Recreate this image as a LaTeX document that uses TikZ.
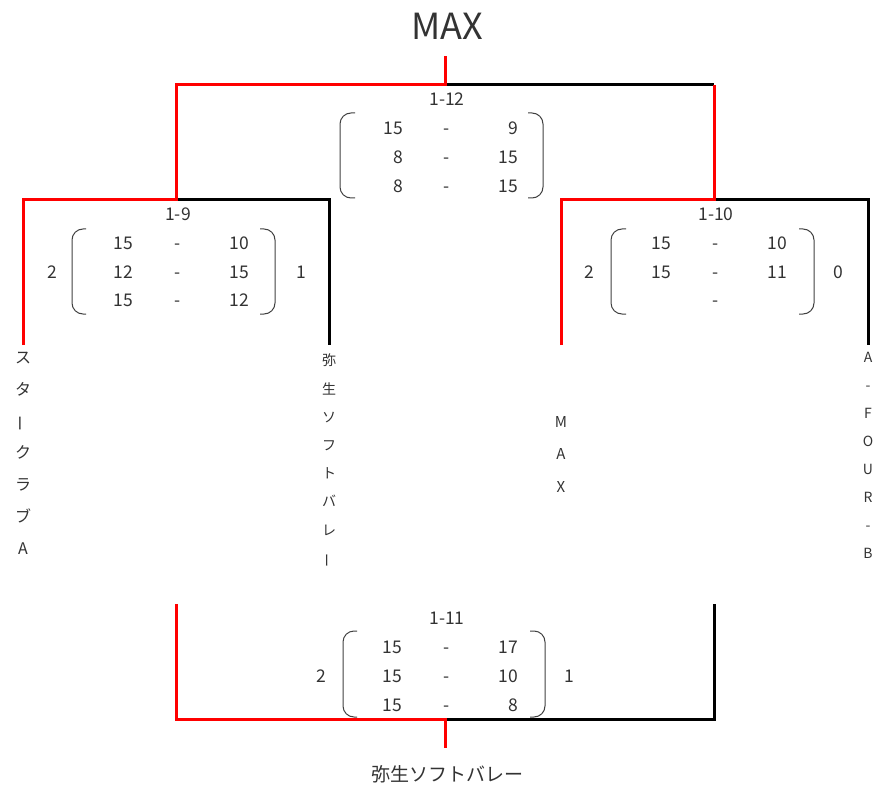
\documentclass[tikz,border=0pt]{standalone}
\usepackage{fontspec}
\setmainfont{Noto Sans CJK JP}
\usetikzlibrary{positioning}

\begin{document}
\begin{tikzpicture}[x=1pt,y=-1pt,
    winline/.style={draw=red, line width=3pt},
    loseline/.style={draw=black, line width=3pt},
    paren/.style={draw=black!75, line width=1pt, rounded corners=11pt},
    txt/.style={text=black!80, inner sep=0pt},
    score/.style={txt, font=\fontsize{17.5}{20}\selectfont, text height=12.6pt, text depth=0pt, anchor=east},
    hyph/.style={txt, font=\fontsize{17.5}{20}\selectfont, text height=12.6pt, text depth=0pt},
    side/.style={txt, font=\fontsize{17.5}{20}\selectfont},
    gamelabel/.style={txt, font=\fontsize{17.5}{20}\selectfont},
    vteam/.style={txt, anchor=north, align=center}]
        \useasboundingbox (0,0) rectangle (875,786);

        % Bracket points
        \coordinate (top) at (445,56);
        \coordinate (fin) at (445,85);
        \coordinate (sfl) at (176,200);
        \coordinate (sfr) at (714,200);
        \coordinate (t1) at (23,345);
        \coordinate (t2) at (329,345);
        \coordinate (t3) at (561,345);
        \coordinate (t4) at (868,345);
        \coordinate (thl) at (176,604);
        \coordinate (thr) at (714,604);
        \coordinate (thm) at (445,719);
        \coordinate (bot) at (445,748);

        % Losing sides
        \draw[loseline] (fin) -- (fin -| sfr);
        \draw[loseline] (sfl) -- (sfl -| t2) -- (t2);
        \draw[loseline] (sfr) -- (sfr -| t4) -- (t4);
        \draw[loseline] (thm) -- (thm -| thr) -- (thr);

        % Winning sides
        \draw[winline] (t1) -- (t1 |- sfl) -- (sfl) -- (sfl |- fin) -- (fin) -- (top);
        \draw[winline] (t3) -- (t3 |- sfr) -- (sfr) -- (sfr |- fin);
        \draw[winline] (thl) -- (thl |- thm) -- (thm) -- (bot);

        % Winner
        \node[txt, font=\fontsize{36}{40}\selectfont] (champ) at (447,26) {MAX};

        % Final 1-12
        \node[gamelabel] (g12) at (447,99) {1-12};
        \draw[paren] (355,113) -- (340,113) -- (340,198) -- (355,198);
        \draw[paren] (528,113) -- (543,113) -- (543,198) -- (528,198);
        \node[score] (g12a1) at (403,128) {15};
        \node[hyph] (g12h1) at (447,128) {-};
        \node[score] (g12b1) at (518,128) {9};
        \node[score] (g12a2) at (403,157) {8};
        \node[hyph] (g12h2) at (447,157) {-};
        \node[score] (g12b2) at (518,157) {15};
        \node[score] (g12a3) at (403,186) {8};
        \node[hyph] (g12h3) at (447,186) {-};
        \node[score] (g12b3) at (518,186) {15};

        % Semifinal 1-9
        \node[gamelabel] (g9) at (178,214) {1-9};
        \draw[paren] (86,229) -- (72,229) -- (72,314) -- (86,314);
        \draw[paren] (260,229) -- (275,229) -- (275,314) -- (260,314);
        \node[side] (g9l) at (52,272) {2};
        \node[side] (g9r) at (301,272) {1};
        \node[score] (g9a1) at (133,243) {15};
        \node[hyph] (g9h1) at (178,243) {-};
        \node[score] (g9b1) at (249,243) {10};
        \node[score] (g9a2) at (133,272) {12};
        \node[hyph] (g9h2) at (178,272) {-};
        \node[score] (g9b2) at (249,272) {15};
        \node[score] (g9a3) at (133,300) {15};
        \node[hyph] (g9h3) at (178,300) {-};
        \node[score] (g9b3) at (249,300) {12};

        % Semifinal 1-10
        \node[gamelabel] (g10) at (716,214) {1-10};
        \draw[paren] (626,229) -- (611,229) -- (611,314) -- (626,314);
        \draw[paren] (799,229) -- (814,229) -- (814,314) -- (799,314);
        \node[side] (g10l) at (589,272) {2};
        \node[side] (g10r) at (838,272) {0};
        \node[score] (g10a1) at (671,243) {15};
        \node[hyph] (g10h1) at (716,243) {-};
        \node[score] (g10b1) at (787,243) {10};
        \node[score] (g10a2) at (671,272) {15};
        \node[hyph] (g10h2) at (716,272) {-};
        \node[score] (g10b2) at (787,272) {11};
        \node[hyph] (g10h3) at (716,300) {-};

        % Third place 1-11
        \node[gamelabel] (g11) at (447,618) {1-11};
        \draw[paren] (357,631) -- (343,631) -- (343,717) -- (357,717);
        \draw[paren] (530,631) -- (545,631) -- (545,717) -- (530,717);
        \node[side] (g11l) at (321,676) {2};
        \node[side] (g11r) at (569,676) {1};
        \node[score] (g11a1) at (402,647) {15};
        \node[hyph] (g11h1) at (447,647) {-};
        \node[score] (g11b1) at (518,647) {17};
        \node[score] (g11a2) at (402,676) {15};
        \node[hyph] (g11h2) at (447,676) {-};
        \node[score] (g11b2) at (518,676) {10};
        \node[score] (g11a3) at (402,705) {15};
        \node[hyph] (g11h3) at (447,705) {-};
        \node[score] (g11b3) at (518,705) {8};

        \node[txt, font=\fontsize{19}{22}\selectfont] (third) at (447,774) {弥生ソフトバレー};

        % Teams
        \node[vteam, font=\fontsize{16}{31.8}\selectfont] (staa) at (23,352)
            {ス\\タ\\\rotatebox[origin=c]{90}{ー}\\ク\\ラ\\ブ\\A};
        \node[vteam, font=\fontsize{14}{28.2}\selectfont] (yayoi) at (329,354)
            {弥\\生\\ソ\\フ\\ト\\バ\\レ\\\rotatebox[origin=c]{90}{ー}};
        \node[vteam, font=\fontsize{15}{32.5}\selectfont] (max) at (561,416)
            {M\\A\\X};
        \node[vteam, font=\fontsize{14}{28}\selectfont] (afourb) at (868,352)
            {A\\-\\F\\O\\U\\R\\-\\B};
\end{tikzpicture}
\end{document}
